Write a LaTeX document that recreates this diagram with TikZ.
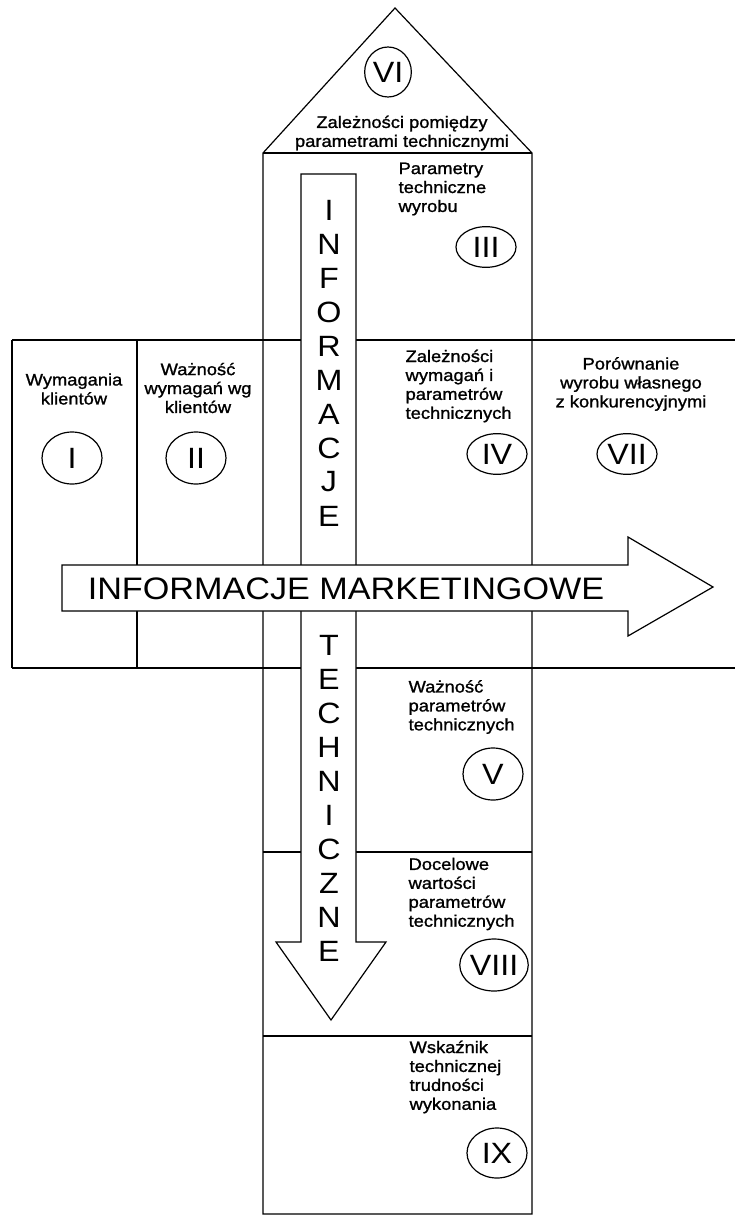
\documentclass[tikz,border=0pt]{standalone}
\usepackage{fontspec}
\setmainfont{Liberation Sans}[FakeStretch=1.1]
\newfontfamily\scanfont{Liberation Sans}[FakeStretch=1.1,FakeBold=1.2]
\usepackage{tikz}
\usetikzlibrary{shapes.geometric}

\begin{document}
\begin{tikzpicture}[x=0.75pt,y=-0.75pt,line width=0.9pt,
    txt/.style={inner sep=0pt,font=\scanfont\fontsize{12.5}{14.2}\selectfont},
    lt/.style={txt,align=left,anchor=west},
    ct/.style={txt,align=center},
    big/.style={inner sep=0pt,font=\fontsize{22}{26}\selectfont},
    num/.style={draw,ellipse,inner sep=0pt,minimum width=45pt,minimum height=39pt,font=\fontsize{22}{26}\selectfont},
    flat/.style={minimum height=30.5pt}]
    \useasboundingbox (0,0) rectangle (735,1216);
    % house
    \draw (263,1214) -- (263,153) -- (395,8) -- (532,153) -- (532,1214) -- cycle;
    \draw (263,153) -- (532,153);
    \draw (12,340) -- (735,340);
    \draw (12,668) -- (735,668);
    \draw (12,340) -- (12,668);
    \draw (137,340) -- (137,668);
    \draw (263,852) -- (532,852);
    \draw (263,1036) -- (532,1036);
    % technical arrow
    \draw[fill=white] (301,174) -- (356,174) -- (356,942) -- (386,942) -- (331,1020) -- (276,942) -- (301,942) -- cycle;
    \foreach \l [count=\i from 0] in {I,N,F,O,R,M,A,C,J,E}
      \node[big] (inf\i) at (329,210+34*\i) {\l};
    \foreach \l [count=\i from 0] in {T,E,C,H,N,I,C,Z,N,E}
      \node[big] (tech\i) at (329,645+34*\i) {\l};
    % marketing arrow
    \draw[fill=white] (62,565) -- (628,565) -- (628,537) -- (713,587) -- (628,636) -- (628,611) -- (62,611) -- cycle;
    \node[big,font=\fontsize{23.3}{27}\selectfont] (mark) at (346,589) {INFORMACJE MARKETINGOWE};
    % texts
    \node[ct] (roofT) at (402,133) {Zależności pomiędzy\\parametrami technicznymi};
    \node[lt] (parT) at (398,189) {Parametry\\techniczne\\wyrobu};
    \node[ct] (wymT) at (74,389) {Wymagania\\klientów};
    \node[ct] (wazT) at (198,388) {Ważność\\wymagań wg\\klientów};
    \node[lt] (zalT) at (405,386) {Zależności\\wymagań i\\parametrów\\technicznych};
    \node[ct] (porT) at (631,384) {Porównanie\\wyrobu własnego\\z konkurencyjnymi};
    \node[lt] (wpT) at (408,707) {Ważność\\parametrów\\technicznych};
    \node[lt] (docT) at (408,894) {Docelowe\\wartości\\parametrów\\technicznych};
    \node[lt] (wskT) at (409,1077) {Wskaźnik\\technicznej\\trudności\\wykonania};
    % numbers
    \node[num,minimum width=35pt,minimum height=37.5pt] (n6) at (388,72) {VI};
    \node[num,flat] (n3) at (486,247) {III};
    \node[num] (n1) at (72,458) {I};
    \node[num] (n2) at (196,458) {II};
    \node[num,flat] (n4) at (497,454) {IV};
    \node[num,flat] (n7) at (627,454) {VII};
    \node[num] (n5) at (493,774) {V};
    \node[num,minimum width=46.5pt] (n8) at (494,965) {VIII};
    \node[num,minimum height=37.5pt] (n9) at (497,1153) {IX};
\end{tikzpicture}
\end{document}
